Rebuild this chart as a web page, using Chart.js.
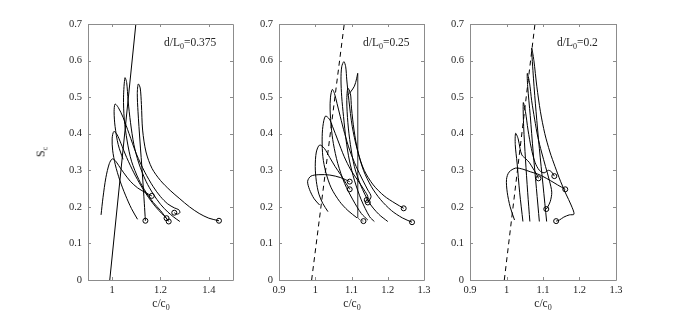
<!DOCTYPE html>
<html>
<head>
<meta charset="utf-8">
<script src="https://cdn.jsdelivr.net/npm/chart.js@4.4.1/dist/chart.umd.min.js"></script>
<style>
  html, body { margin: 0; padding: 0; background: #fff; }
  #wrap { position: relative; width: 680px; height: 315px; overflow: hidden; font-family: 'Liberation Serif', 'Times New Roman', serif; color: #262626; }
  #wrap canvas { position: absolute; top: 0; }
  .note { position: absolute; font-size: 11.5px; white-space: nowrap; }
  .xtitle { position: absolute; top: 297px; font-size: 11.5px; white-space: nowrap; transform: translateX(-50%); }
  .ytitle { position: absolute; left: 41px; top: 152px; font-size: 12px; white-space: nowrap; transform: translate(-50%, -50%) rotate(-90deg); }
  sub { font-size: 8px; vertical-align: -3px; line-height: 0; }
</style>
</head>
<body>
<div id="wrap">
  <canvas id="panel1" width="200" height="315" style="left:48px"></canvas>
  <canvas id="panel2" width="200" height="315" style="left:239px"></canvas>
  <canvas id="panel3" width="201" height="315" style="left:430px"></canvas>
  <div class="note" style="left:164px; top:36px">d/L<sub>0</sub>=0.375</div>
  <div class="note" style="left:363px; top:36px">d/L<sub>0</sub>=0.25</div>
  <div class="note" style="left:557px; top:36px">d/L<sub>0</sub>=0.2</div>
  <div class="ytitle">S<sub>c</sub></div>
  <div class="xtitle" style="left:161px">c/c<sub>0</sub></div>
  <div class="xtitle" style="left:352px">c/c<sub>0</sub></div>
  <div class="xtitle" style="left:543px">c/c<sub>0</sub></div>
</div>
<script>
// tick values
const Y_TICKS = [0, 0.1, 0.2, 0.3, 0.4, 0.5, 0.6, 0.7];
const X_TICKS_1 = [1, 1.2, 1.4];
const X_TICKS_23 = [0.9, 1, 1.1, 1.2, 1.3];

// panel 1, d/L0 = 0.375  ([c/c0, Sc] pairs)
const P1_LINE = [[0.99, 0], [1.098, 0.7]];
const P1_A = [[0.954, 0.178], [0.962, 0.225], [0.974, 0.28], [0.988, 0.318], [1.0, 0.331], [1.012, 0.327], [1.027, 0.313], [1.048, 0.293], [1.075, 0.27], [1.105, 0.252], [1.135, 0.24], [1.164, 0.23]];
const P1_B = [[1.105, 0.166], [1.08, 0.195], [1.055, 0.232], [1.032, 0.272], [1.013, 0.315], [1.002, 0.355], [1.0, 0.388], [1.007, 0.406], [1.02, 0.398], [1.036, 0.374], [1.06, 0.335], [1.09, 0.293], [1.12, 0.257], [1.15, 0.226], [1.18, 0.2], [1.205, 0.182], [1.225, 0.169]];
const P1_C = [[1.045, 0.33], [1.025, 0.37], [1.012, 0.42], [1.008, 0.46], [1.012, 0.481], [1.025, 0.472], [1.045, 0.445], [1.07, 0.4], [1.1, 0.345], [1.135, 0.295], [1.17, 0.255], [1.2, 0.228], [1.23, 0.208], [1.258, 0.197], [1.276, 0.192], [1.28, 0.184], [1.268, 0.18], [1.257, 0.184]];
const P1_D = [[1.234, 0.16], [1.2, 0.19], [1.17, 0.212], [1.14, 0.24], [1.11, 0.275], [1.08, 0.325], [1.062, 0.38], [1.05, 0.44], [1.047, 0.5], [1.053, 0.553], [1.06, 0.54], [1.066, 0.49], [1.076, 0.43], [1.09, 0.37], [1.11, 0.32], [1.14, 0.27], [1.17, 0.235], [1.2, 0.207], [1.23, 0.186], [1.255, 0.172], [1.28, 0.16]];
const P1_E = [[1.1375, 0.162], [1.133, 0.21], [1.125, 0.29], [1.115, 0.38], [1.107, 0.46], [1.104, 0.51], [1.108, 0.536], [1.116, 0.525], [1.121, 0.48], [1.126, 0.41], [1.14, 0.35], [1.165, 0.305], [1.2, 0.272], [1.24, 0.245], [1.28, 0.222], [1.32, 0.2], [1.36, 0.182], [1.4, 0.169], [1.442, 0.162]];
const P1_MARKS = [[1.164, 0.23], [1.225, 0.169], [1.257, 0.184], [1.234, 0.16], [1.1375, 0.162], [1.442, 0.162]];

// panel 2, d/L0 = 0.25
const P2_LINE = [[0.99, 0], [1.08, 0.7]];
const P2_F = [[1.012, 0.205], [0.997, 0.222], [0.984, 0.248], [0.979, 0.27], [0.988, 0.284], [1.01, 0.288], [1.04, 0.287], [1.07, 0.28], [1.095, 0.269]];
const P2_G = [[1.035, 0.187], [1.021, 0.209], [1.01, 0.235], [1.003, 0.27], [1.0, 0.31], [1.003, 0.35], [1.012, 0.369], [1.025, 0.36], [1.04, 0.335], [1.055, 0.31], [1.07, 0.288], [1.085, 0.264], [1.095, 0.248]];
const P2_H = [[1.115, 0.17], [1.09, 0.19], [1.067, 0.215], [1.044, 0.252], [1.029, 0.295], [1.021, 0.337], [1.019, 0.383], [1.021, 0.42], [1.028, 0.448], [1.039, 0.44], [1.048, 0.419], [1.062, 0.383], [1.08, 0.337], [1.098, 0.301], [1.117, 0.273], [1.135, 0.246], [1.145, 0.228], [1.142, 0.219]];
const P2_I = [[1.145, 0.164], [1.127, 0.182], [1.104, 0.219], [1.081, 0.264], [1.062, 0.319], [1.05, 0.373], [1.044, 0.419], [1.041, 0.465], [1.042, 0.5], [1.047, 0.521], [1.053, 0.51], [1.06, 0.483], [1.069, 0.447], [1.081, 0.401], [1.095, 0.355], [1.113, 0.31], [1.131, 0.273], [1.145, 0.246], [1.154, 0.228], [1.145, 0.212]];
const P2_J = [[1.163, 0.16], [1.15, 0.173], [1.127, 0.219], [1.108, 0.273], [1.094, 0.328], [1.085, 0.383], [1.078, 0.447], [1.073, 0.501], [1.071, 0.547], [1.073, 0.583], [1.079, 0.597], [1.084, 0.583], [1.087, 0.547], [1.093, 0.49], [1.102, 0.42], [1.115, 0.36], [1.133, 0.3], [1.155, 0.255], [1.18, 0.22], [1.21, 0.19], [1.24, 0.17], [1.267, 0.158]];
const P2_K = [[1.2, 0.16], [1.175, 0.18], [1.15, 0.21], [1.125, 0.26], [1.108, 0.31], [1.097, 0.37], [1.09, 0.43], [1.087, 0.49], [1.09, 0.524], [1.097, 0.51], [1.1, 0.47], [1.107, 0.41], [1.118, 0.35], [1.135, 0.3], [1.16, 0.26], [1.19, 0.23], [1.22, 0.21], [1.244, 0.196]];
const P2_HOOK = [[1.089, 0.505], [1.098, 0.515], [1.108, 0.53], [1.114, 0.55], [1.117, 0.565]];
const P2_DROP = [[1.117, 0.565], [1.117, 0.17], [1.125, 0.163], [1.133, 0.161]];
const P2_MARKS = [[1.095, 0.269], [1.095, 0.248], [1.142, 0.219], [1.145, 0.212], [1.133, 0.161], [1.244, 0.196], [1.267, 0.158]];

// panel 3, d/L0 = 0.2
const P3_LINE = [[0.994, 0], [1.078, 0.7]];
const P3_W = [[1.022, 0.164], [1.01, 0.2], [1.002, 0.24], [1.0, 0.275], [1.007, 0.295], [1.025, 0.306], [1.045, 0.303], [1.065, 0.296], [1.085, 0.29], [1.1, 0.283], [1.12, 0.272], [1.14, 0.26], [1.161, 0.248]];
const P3_S1 = [[1.045, 0.16], [1.036, 0.24], [1.029, 0.32], [1.024, 0.37], [1.025, 0.401], [1.032, 0.386], [1.037, 0.36], [1.042, 0.342], [1.052, 0.332], [1.062, 0.322], [1.072, 0.306], [1.082, 0.29], [1.0876, 0.278]];
const P3_S2 = [[1.064, 0.16], [1.058, 0.24], [1.052, 0.33], [1.047, 0.42], [1.046, 0.485], [1.052, 0.46], [1.059, 0.41], [1.068, 0.36], [1.078, 0.322], [1.09, 0.3], [1.103, 0.293], [1.115, 0.3], [1.124, 0.295], [1.131, 0.284]];
const P3_S3 = [[1.09, 0.16], [1.082, 0.25], [1.073, 0.35], [1.065, 0.45], [1.058, 0.53], [1.057, 0.565], [1.063, 0.54], [1.069, 0.49], [1.077, 0.44], [1.086, 0.39], [1.096, 0.35], [1.107, 0.31], [1.118, 0.27], [1.124, 0.24], [1.12, 0.215], [1.113, 0.2], [1.109, 0.194]];
const P3_S4 = [[1.11, 0.16], [1.1, 0.26], [1.09, 0.36], [1.081, 0.46], [1.074, 0.55], [1.069, 0.634], [1.075, 0.6], [1.083, 0.53], [1.093, 0.46], [1.105, 0.4], [1.119, 0.35], [1.133, 0.31], [1.148, 0.27], [1.163, 0.235], [1.177, 0.205], [1.185, 0.18], [1.172, 0.178], [1.157, 0.172], [1.145, 0.164], [1.136, 0.161]];
const P3_MARKS = [[1.0876, 0.278], [1.131, 0.284], [1.161, 0.248], [1.109, 0.194], [1.136, 0.161]];

const AXIS_COLOR = '#8c8c8c';
const TEXT_COLOR = '#262626';
const FONT = { family: "'Liberation Serif', 'Times New Roman', serif", size: 10.5 };

/**
 * Turn [x, y] pairs into Chart.js points
 */
function pts(pairs) {
    return pairs.map(p => ({ x: p[0], y: p[1] }));
}

function curve(pairs, extra) {
    return Object.assign({
        data: pts(pairs),
        showLine: true,
        borderColor: '#000',
        borderWidth: 1,
        pointRadius: 0,
        tension: 0.3,
        fill: false
    }, extra || {});
}

function marks(pairs) {
    return {
        data: pts(pairs),
        showLine: false,
        pointRadius: 2.5,
        pointBorderWidth: 1,
        pointBorderColor: '#000',
        pointBackgroundColor: 'rgba(0,0,0,0)'
    };
}

/**
 * MATLAB-style box with inward ticks on all four sides
 */
const boxPlugin = {
    id: 'box',
    afterDraw(chart) {
        const { ctx, chartArea: a, scales } = chart;
        const len = 3;
        ctx.save();
        ctx.strokeStyle = AXIS_COLOR;
        ctx.lineWidth = 1;
        ctx.beginPath();
        ctx.rect(Math.round(a.left) + 0.5, Math.round(a.top) + 0.5, Math.round(a.right - a.left), Math.round(a.bottom - a.top));
        scales.x.ticks.forEach(t => {
            const px = Math.round(scales.x.getPixelForValue(t.value)) + 0.5;
            ctx.moveTo(px, a.bottom); ctx.lineTo(px, a.bottom - len);
            ctx.moveTo(px, a.top); ctx.lineTo(px, a.top + len);
        });
        scales.y.ticks.forEach(t => {
            const py = Math.round(scales.y.getPixelForValue(t.value)) + 0.5;
            ctx.moveTo(a.left, py); ctx.lineTo(a.left + len, py);
            ctx.moveTo(a.right, py); ctx.lineTo(a.right - len, py);
        });
        ctx.stroke();
        ctx.restore();
    }
};

function fixedTicks(values) {
    return scale => { scale.ticks = values.map(v => ({ value: v })); };
}

/**
 * Build one panel
 */
function makePanel(id, xMin, xMax, xTicks, datasets) {
    return new Chart(document.getElementById(id), {
        type: 'scatter',
        data: { datasets: datasets },
        options: {
            responsive: false,
            animation: false,
            devicePixelRatio: 1,
            layout: { padding: { top: 24, right: 15, left: 0, bottom: 0 } },
            plugins: { legend: { display: false }, tooltip: { enabled: false } },
            scales: {
                x: {
                    type: 'linear',
                    min: xMin,
                    max: xMax,
                    afterBuildTicks: fixedTicks(xTicks),
                    afterFit: s => { s.height = 35; s.paddingLeft = 0; s.paddingRight = 0; },
                    grid: { display: false, drawTicks: false },
                    border: { display: false },
                    ticks: { color: TEXT_COLOR, font: FONT, padding: 4, maxRotation: 0, autoSkip: false, callback: v => String(v) }
                },
                y: {
                    type: 'linear',
                    min: 0,
                    max: 0.7,
                    afterBuildTicks: fixedTicks(Y_TICKS),
                    afterFit: s => { s.width = 40; s.paddingTop = 0; s.paddingBottom = 0; },
                    grid: { display: false, drawTicks: false },
                    border: { display: false },
                    ticks: { color: TEXT_COLOR, font: FONT, padding: 6, autoSkip: false, callback: v => String(v) }
                }
            }
        },
        plugins: [boxPlugin]
    });
}

const dashed = { borderDash: [5, 4], tension: 0 };

makePanel('panel1', 0.9, 1.5, X_TICKS_1, [
    curve(P1_LINE, { tension: 0 }),
    curve(P1_A), curve(P1_B), curve(P1_C), curve(P1_D), curve(P1_E),
    marks(P1_MARKS)
]);

makePanel('panel2', 0.9, 1.3, X_TICKS_23, [
    curve(P2_LINE, dashed),
    curve(P2_F), curve(P2_G), curve(P2_H), curve(P2_I), curve(P2_J), curve(P2_K),
    curve(P2_HOOK),
    curve(P2_DROP, { tension: 0, borderColor: '#666' }),
    marks(P2_MARKS)
]);

makePanel('panel3', 0.9, 1.3, X_TICKS_23, [
    curve(P3_LINE, dashed),
    curve(P3_W), curve(P3_S1), curve(P3_S2), curve(P3_S3), curve(P3_S4),
    marks(P3_MARKS)
]);
</script>
</body>
</html>
